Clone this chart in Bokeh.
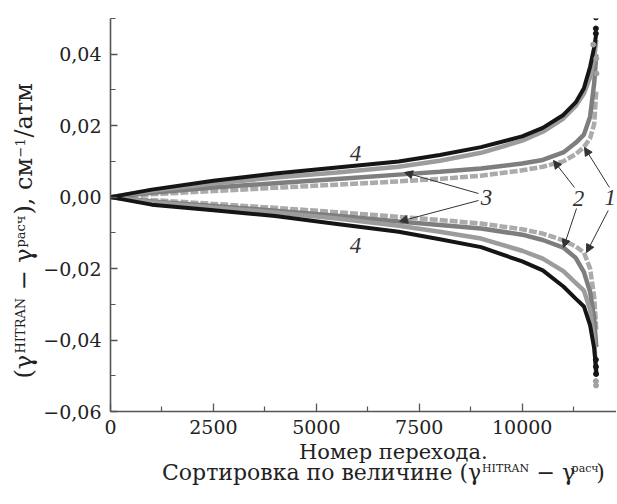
import numpy as np
from bokeh.plotting import figure
from bokeh.layouts import row, column
from bokeh.models import Range1d, FixedTicker, Label, Arrow, NormalHead, CustomJSTickFormatter
from bokeh.embed import file_html
from bokeh.resources import INLINE

# ---- data ----
x_pts = [0, 1000, 2500, 4000, 5500, 7000, 8000, 9000, 10000, 10500, 11000, 11300, 11500, 11650, 11750, 11800]

s4_pos = [0, 0.0021, 0.0046, 0.0066, 0.0083, 0.0100, 0.0118, 0.0140, 0.0170, 0.0194, 0.0230, 0.0265, 0.0305, 0.0365, 0.0420, 0.0458]
s3_pos = [0, 0.0018, 0.0038, 0.0055, 0.0069, 0.0085, 0.0102, 0.0124, 0.0158, 0.0183, 0.0220, 0.0255, 0.0290, 0.0335, 0.0390, 0.0440]
s2_pos = [0, 0.0012, 0.0027, 0.0039, 0.0051, 0.0063, 0.0071, 0.0080, 0.0094, 0.0104, 0.0125, 0.0152, 0.0175, 0.0225, 0.0320, 0.0400]
s1_pos = [0, 0.0008, 0.0017, 0.0026, 0.0035, 0.0044, 0.0051, 0.0060, 0.0075, 0.0085, 0.0100, 0.0120, 0.0140, 0.0165, 0.0205, 0.0300]

s4_neg = [0, -0.0021, -0.0037, -0.0053, -0.0075, -0.0097, -0.0118, -0.0140, -0.0180, -0.0205, -0.0250, -0.0284, -0.0306, -0.0359, -0.0424, -0.0490]
s3_neg = [0, -0.0014, -0.0029, -0.0043, -0.0060, -0.0080, -0.0097, -0.0116, -0.0150, -0.0172, -0.0207, -0.0240, -0.0262, -0.0315, -0.0400, -0.0500]
s2_neg = [0, -0.0012, -0.0025, -0.0038, -0.0052, -0.0068, -0.0078, -0.0088, -0.0105, -0.0120, -0.0141, -0.0170, -0.0210, -0.0265, -0.0340, -0.0420]
s1_neg = [0, -0.0008, -0.0019, -0.0030, -0.0042, -0.0055, -0.0064, -0.0074, -0.0090, -0.0102, -0.0121, -0.0138, -0.0155, -0.0200, -0.0280, -0.0370]

tail4_pos_x = [11790, 11790, 11790]
tail4_pos_y = [0.0458, 0.0472, 0.0503]
tailg_pos_x = [11725, 11800, 11805]
tailg_pos_y = [0.0427, 0.0388, 0.0346]
tail4_neg_x = [11790, 11792, 11795]
tail4_neg_y = [-0.0455, -0.0475, -0.0495]
tailg_neg_x = [11790, 11795]
tailg_neg_y = [-0.0515, -0.0527]

x_ticks = [0, 2500, 5000, 7500, 10000]
x_minor = [1250, 3750, 6250, 8750, 11250]
y_ticks = [-0.06, -0.04, -0.02, 0.0, 0.02, 0.04]
y_minor = [-0.05, -0.03, -0.01, 0.01, 0.03, 0.05]

SERIF = "DejaVu Serif"
AX = "#555555"
TXT = "#222222"

LEFT_W = 40
MAIN_LB = 69
FRAME_W = 506
FRAME_H = 393
TOP_B = 18
BOT_B = 30
BOTTOM_H = 59
MAIN_W = MAIN_LB + FRAME_W
MAIN_H = TOP_B + FRAME_H + BOT_B
TOTAL_H = MAIN_H + BOTTOM_H

p = figure(frame_width=FRAME_W, frame_height=FRAME_H,
           x_range=Range1d(0, 12291), y_range=Range1d(-0.06, 0.05),
           output_backend="svg", toolbar_location=None,
           min_border_left=MAIN_LB, min_border_right=0, min_border_top=TOP_B, min_border_bottom=BOT_B)
p.outline_line_color = None
p.xgrid.visible = False
p.ygrid.visible = False

for ax in (p.xaxis[0], p.yaxis[0]):
    ax.axis_line_color = AX
    ax.axis_line_width = 1.6
    ax.major_tick_line_color = AX
    ax.minor_tick_line_color = AX
    ax.major_tick_line_width = 1.3
    ax.minor_tick_line_width = 1.2
    ax.major_tick_out = 0
    ax.minor_tick_out = 0
    ax.major_label_text_font = SERIF
    ax.major_label_text_font_size = "19px"
    ax.major_label_text_color = TXT
p.yaxis.major_label_standoff = 9
p.xaxis.major_label_standoff = 8

p.xaxis.ticker = FixedTicker(ticks=x_ticks, minor_ticks=x_minor)
p.yaxis.ticker = FixedTicker(ticks=y_ticks, minor_ticks=y_minor)
p.xaxis.major_tick_in = 8
p.xaxis.minor_tick_in = 5
p.yaxis.major_tick_in = 7
p.yaxis.minor_tick_in = 5
p.xaxis.formatter = CustomJSTickFormatter(code="return tick.toFixed(0);")
p.yaxis.formatter = CustomJSTickFormatter(
    code="return (tick < -1e-9 ? '\u2212' : '') + Math.abs(tick).toFixed(2).replace('.', ',');")

# ---- curves ----
styles = [
    (s1_pos, s1_neg, "#ababab", 4.5, "8 2"),
    (s2_pos, s2_neg, "#7e7e7e", 4.5, "solid"),
    (s3_pos, s3_neg, "#9c9c9c", 4.5, "solid"),
    (s4_pos, s4_neg, "#151515", 4.0, "solid"),
]
for pos, neg, col, lw, dash in styles:
    p.line(x_pts, pos, line_color=col, line_width=lw, line_dash=dash)
    p.line(x_pts, neg, line_color=col, line_width=lw, line_dash=dash)

p.scatter(tailg_pos_x, tailg_pos_y, size=5, color="#a0a0a0")
p.scatter(tailg_neg_x, tailg_neg_y, size=5, color="#a0a0a0")
p.scatter(tail4_pos_x, tail4_pos_y, size=5, color="#151515")
p.scatter(tail4_neg_x, tail4_neg_y, size=5, color="#151515")

# ---- arrows ----
arrows = [
    (8939, 0.00102, 7142, 0.0069),
    (8939, -0.00094, 7020, -0.00682),
    (11271, 0.00270, 10761, 0.01025),
    (11320, -0.00318, 11004, -0.01410),
    (12120, 0.00270, 11514, 0.01389),
    (12090, -0.00374, 11563, -0.01550),
]
for xs, ys, xe, ye in arrows:
    p.add_layout(Arrow(end=NormalHead(size=8, fill_color="#333333", line_color="#333333", line_width=1),
                       x_start=xs, y_start=ys, x_end=xe, y_end=ye,
                       line_color="#333333", line_width=1))

# ---- curve numbers ----
for txt, xx, yy in [("4", 5950, 0.0122), ("4", 5950, -0.0135), ("3", 9133, -0.0001),
                    ("2", 11368, -0.0004), ("1", 12140, -0.0001)]:
    p.add_layout(Label(x=xx, y=yy, text=txt, text_font="Liberation Serif", text_font_style="italic",
                       text_font_size="23px", text_color="#333333",
                       text_align="center", text_baseline="middle"))


def blank(w, h):
    f = figure(width=w, height=h, x_range=Range1d(0, w), y_range=Range1d(h, 0),
               output_backend="svg", toolbar_location=None,
               x_axis_type=None, y_axis_type=None, min_border=0)
    f.outline_line_color = None
    f.xgrid.visible = False
    f.ygrid.visible = False
    return f


# ---- bottom titles (pixel coordinates inside their own strip) ----
bot = blank(MAIN_W, BOTTOM_H)
bot.add_layout(Label(x=362 - LEFT_W, y=451 - MAIN_H, text="Номер перехода.", text_font=SERIF,
                     text_font_size="21px", text_color=TXT, text_align="center",
                     text_baseline="alphabetic"))
B2 = 472 - MAIN_H
S2 = 468 - MAIN_H
for txt, xx, yy, fs, al in [("Сортировка по величине (γ", 462, B2, "22px", "right"),
                            ("HITRAN", 463, S2, "11px", "left"),
                            ("− γ", 525, B2, "22px", "left"),
                            ("расч", 565, S2, "11px", "left"),
                            (")", 593, B2, "22px", "left")]:
    bot.add_layout(Label(x=xx - LEFT_W, y=yy, text=txt, text_font=SERIF, text_font_size=fs,
                         text_color=TXT, text_align=al, text_baseline="alphabetic"))

# ---- left title (rotated) ----
left = blank(LEFT_W, TOTAL_H)
YB = 23
YS = 19.5
for txt, xx, yy, fs in [("(γ", YB, 378, "24px"),
                        ("HITRAN", YS, 353, "13px"),
                        ("− γ", YB, 290, "24px"),
                        ("расч", YS, 247, "13px"),
                        ("), см", YB, 214, "24px"),
                        ("−1", YS, 157, "13px"),
                        ("/атм", YB, 137, "24px")]:
    left.add_layout(Label(x=xx, y=yy, text=txt, text_font=SERIF, text_font_size=fs, angle=np.pi / 2,
                          text_color=TXT, text_align="left", text_baseline="alphabetic"))

layout = row(left, column(p, bot, spacing=0), spacing=0)
open("out.html", "w").write(file_html(layout, INLINE))
